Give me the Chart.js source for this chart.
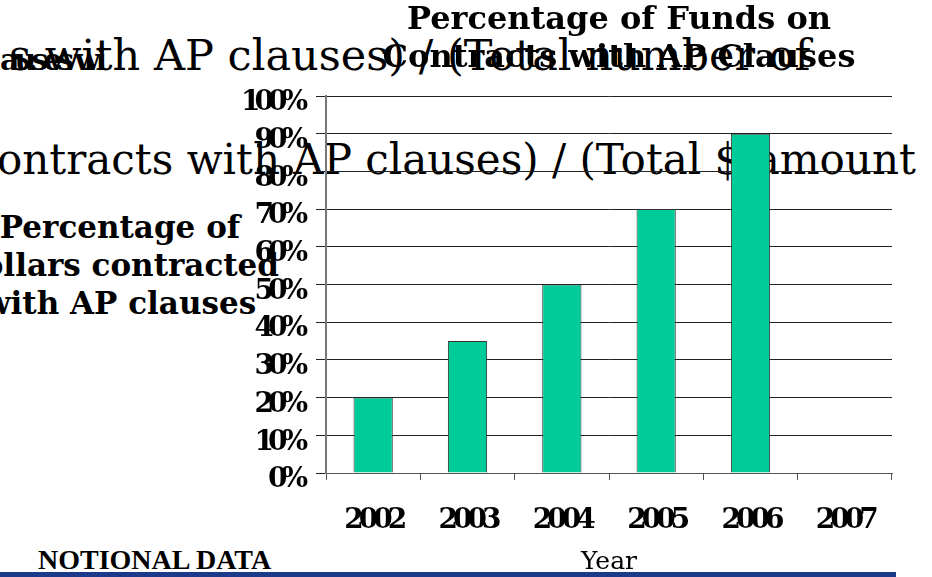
<!DOCTYPE html>
<html>
<head>
<meta charset="utf-8">
<script src="https://cdn.jsdelivr.net/npm/chart.js@4/dist/chart.umd.min.js"></script>
<style>
  html, body { margin: 0; padding: 0; background: #fff; }
  #wrap { position: relative; width: 932px; height: 577px; overflow: hidden; }
  #c { position: absolute; left: 0; top: 0; z-index: 1; }
  .bg { position: absolute; white-space: nowrap; z-index: 0; color: #000; }
  .big { font-family: "DejaVu Serif", serif; }
  #ytitle { font-family: "DejaVu Serif", serif; font-weight: bold; font-size: 31px; line-height: 38px;
            left: -80px; width: 400px; text-align: center; top: 208px; }
  #clip { font-family: "DejaVu Serif", serif; font-weight: bold; font-size: 30px; line-height: 30px;
          letter-spacing: -5px; left: 0; top: 45px; }
  #notional { font-family: "Liberation Serif", serif; font-weight: bold; font-size: 28px; line-height: 28px;
              left: 38px; top: 546px; }
  #band { position: absolute; left: 0; top: 572px; width: 896px; height: 5px; background: #1b3a8a; z-index: 2; }
</style>
</head>
<body>
<div id="wrap">
  <div class="bg" id="clip">auses wi</div>
  <div class="bg big" style="left:9px; top:34px; font-size:43px; line-height:43px;">s with AP clauses) / (Total number of</div>
  <div class="bg big" style="left:-3px; top:139px; font-size:42px; line-height:42px;">ontracts with AP clauses) / (Total $ amount</div>
  <div class="bg" id="ytitle">Percentage of<br>dollars contracted<br>with AP clauses</div>
  <div class="bg" id="notional">NOTIONAL DATA</div>
  <canvas id="c" width="932" height="577"></canvas>
  <div id="band"></div>
</div>
<script>
const years = ['2002', '2003', '2004', '2005', '2006', '2007'];
const percentFunds = [20, 35, 50, 70, 90, null];
const yTickStep = 10;
const yMax = 100;
const chartTitle = ['Percentage of Funds on', 'Contracts with AP Clauses'];
const xTitle = 'Year';

const squeeze = {
  id: 'squeeze',
  afterUpdate(chart) {
    const t = chart.titleBlock;
    if (t) { t.left += 10; t.right += 10; }
  },
  beforeDraw(chart) {
    const spacing = { x: '-5px', y: '-6px' };
    ['x', 'y'].forEach(id => {
      const s = chart.scales[id];
      if (s && !s._squeezed) {
        const orig = s.drawLabels;
        s.drawLabels = function (ca) {
          const ctx = this.ctx;
          const prev = ctx.letterSpacing;
          ctx.letterSpacing = spacing[id];
          orig.call(this, ca);
          ctx.letterSpacing = prev || '0px';
        };
        s._squeezed = true;
      }
    });
  }
};

new Chart(document.getElementById('c'), {
  type: 'bar',
  data: {
    labels: years,
    datasets: [{
      data: percentFunds,
      backgroundColor: '#00CC99',
      borderColor: '#333333',
      borderWidth: 1,
      categoryPercentage: 0.8,
      barPercentage: 0.52
    }]
  },
  options: {
    responsive: false,
    animation: false,
    devicePixelRatio: 1,
    layout: { padding: { left: 0, right: 40, top: 0, bottom: 0 } },
    plugins: {
      legend: { display: false },
      tooltip: { enabled: false },
      title: {
        display: true,
        text: chartTitle,
        fullSize: false,
        color: '#000',
        font: { family: 'DejaVu Serif', weight: 'bold', size: 32, lineHeight: 38 / 32 },
        padding: { top: 2, bottom: 18 }
      }
    },
    scales: {
      x: {
        afterFit(s) { s.height = 104; },
        grid: { drawOnChartArea: false, color: '#555', tickLength: 7, lineWidth: 1 },
        border: { color: '#555', width: 1 },
        ticks: { color: '#000', padding: 24, font: { family: 'DejaVu Serif', weight: 'bold', size: 28, lineHeight: 1.2 } },
        title: { display: true, text: xTitle, color: '#000', padding: 0,
                 font: { family: 'DejaVu Serif', size: 25, lineHeight: 1.2 } }
      },
      y: {
        afterFit(s) { s.width = 326; },
        min: 0, max: yMax,
        grid: { color: '#222', lineWidth: 1, tickLength: 10 },
        border: { color: '#777', width: 2 },
        ticks: { stepSize: yTickStep, color: '#000', padding: 14, labelOffset: 7,
                 font: { family: 'DejaVu Serif', weight: 'bold', size: 28 },
                 callback: v => v + '%' }
      }
    }
  },
  plugins: [squeeze]
});
</script>
</body>
</html>
